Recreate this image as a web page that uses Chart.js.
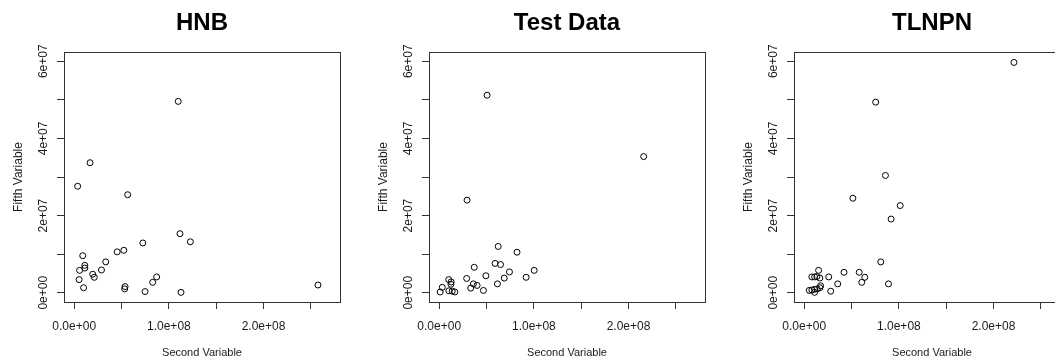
<!DOCTYPE html>
<html>
<head>
<meta charset="utf-8">
<script src="https://cdn.jsdelivr.net/npm/chart.js@4.4.1/dist/chart.umd.min.js"></script>
<style>
  html, body { margin: 0; padding: 0; background: #fff; }
  body { width: 1055px; height: 360px; overflow: hidden; }
  .row { display: flex; flex-wrap: nowrap; width: 1095px; }
  .panel { width: 365px; height: 360px; flex: none; }
</style>
</head>
<body>
<div class="row">
  <div class="panel"><canvas id="hnb" width="365" height="360"></canvas></div>
  <div class="panel"><canvas id="test" width="365" height="360"></canvas></div>
  <div class="panel"><canvas id="tlnpn" width="365" height="360"></canvas></div>
</div>
<script>
//data
const titles = ['HNB', 'Test Data', 'TLNPN'];

const hnbX = [1.099e8, 1.67e7, 3.6e6, 5.65e7, 1.117e8, 1.227e8, 7.25e7, 5.24e7, 4.54e7, 9.0e6, 3.33e7, 1.12e7, 1.12e7,
  5.7e6, 2.88e7, 1.95e7, 2.12e7, 5.2e6, 8.71e7, 8.29e7, 9.9e6, 5.37e7, 5.33e7, 7.48e7, 1.128e8, 2.575e8];
const hnbY = [4.96e7, 3.37e7, 2.76e7, 2.54e7, 1.53e7, 1.32e7, 1.29e7, 1.10e7, 1.06e7, 9.6e6, 8.0e6, 7.1e6, 6.4e6,
  5.8e6, 5.9e6, 4.8e6, 4.0e6, 3.4e6, 4.1e6, 2.7e6, 1.3e6, 1.6e6, 1.0e6, 3.0e5, 1.0e5, 2.0e6];

const testX = [5.06e7, 2.16e8, 2.94e7, 6.23e7, 8.22e7, 5.90e7, 6.48e7, 3.70e7, 1.003e8, 7.42e7, 4.93e7, 9.18e7, 6.87e7, 2.90e7,
  1.0e7, 1.26e7, 1.24e7, 3.61e7, 6.15e7, 4.0e7, 3.33e7, 3.2e6, 4.67e7, 1.02e7, 1.0e6, 1.37e7, 1.65e7];
const testY = [5.12e7, 3.53e7, 2.40e7, 1.20e7, 1.05e7, 7.6e6, 7.3e6, 6.6e6, 5.8e6, 5.4e6, 4.4e6, 4.0e6, 3.8e6, 3.7e6,
  3.4e6, 2.8e6, 2.2e6, 2.3e6, 2.3e6, 1.9e6, 1.2e6, 1.4e6, 6.0e5, 5.0e5, 2.0e5, 4.0e5, 2.0e5];

const tlnpnX = [2.216e8, 7.55e7, 8.58e7, 5.14e7, 1.014e8, 9.18e7, 8.09e7, 1.52e7, 4.20e7, 5.81e7, 8.1e6, 1.10e7, 1.34e7, 1.65e7,
  2.59e7, 6.40e7, 6.08e7, 3.54e7, 8.9e7, 1.73e7, 1.66e7, 1.38e7, 1.10e7, 8.1e6, 5.3e6, 1.10e7, 2.8e7];
const tlnpnY = [5.97e7, 4.94e7, 3.04e7, 2.45e7, 2.26e7, 1.91e7, 8.0e6, 5.8e6, 5.3e6, 5.3e6, 4.1e6, 4.1e6, 4.2e6, 3.8e6,
  4.1e6, 4.0e6, 2.7e6, 2.3e6, 2.3e6, 1.8e6, 1.3e6, 1.0e6, 9.0e5, 7.0e5, 6.0e5, 1.0e5, 4.0e5];

//axes
const xTickValues = [0, 5e7, 1e8, 1.5e8, 2e8, 2.5e8];
const xTickLabels = ['0.0e+00', '', '1.0e+08', '', '2.0e+08', ''];
const yTickValues = [0, 1e7, 2e7, 3e7, 4e7, 5e7, 6e7];
const yTickLabels = ['0e+00', '', '2e+07', '', '4e+07', '', '6e+07'];
const xRange = [-1.08e7, 2.808e8];
const yRange = [-2.4e6, 6.24e7];

const fontFamily = '"Liberation Sans", Arial, Helvetica, sans-serif';
const ink = '#1a1a1a';

// box around the plot region + title centred over it (R style)
const framePlugin = {
  id: 'frame',
  afterDraw(chart, args, opts) {
    const {ctx, chartArea: a} = chart;
    ctx.save();
    ctx.strokeStyle = '#333';
    ctx.lineWidth = 1;
    ctx.strokeRect(Math.round(a.left) + 0.5, Math.round(a.top) + 0.5,
      Math.round(a.right - a.left), Math.round(a.bottom - a.top));

    ctx.fillStyle = '#000';
    ctx.font = 'bold 24px ' + fontFamily;
    ctx.textAlign = 'center';
    ctx.textBaseline = 'middle';
    ctx.fillText(opts.text, (a.left + a.right) / 2, 23.5);
    ctx.restore();
  }
};

function makeChart(id, title, xs, ys) {
  const points = xs.map((x, i) => ({x: x, y: ys[i]}));
  return new Chart(document.getElementById(id), {
    type: 'scatter',
    data: {
      datasets: [{
        data: points,
        pointStyle: 'circle',
        pointRadius: 3,
        pointBorderWidth: 1,
        borderColor: '#000',
        backgroundColor: 'rgba(0,0,0,0)'
      }]
    },
    options: {
      responsive: false,
      animation: false,
      events: [],
      layout: { padding: { left: 0, right: 25, top: 52, bottom: 0 } },
      plugins: {
        legend: { display: false },
        tooltip: { enabled: false },
        title: { display: false },
        frame: { text: title }
      },
      scales: {
        x: {
          type: 'linear',
          min: xRange[0],
          max: xRange[1],
          afterBuildTicks: s => { s.ticks = xTickValues.map(v => ({value: v})); },
          afterFit: s => { s.height = 58; },
          grid: { drawOnChartArea: false, drawTicks: true, tickLength: 7, color: '#333', tickWidth: 1 },
          border: { display: false },
          ticks: {
            autoSkip: false,
            maxRotation: 0,
            padding: 10,
            color: ink,
            font: { family: fontFamily, size: 12 },
            callback: (v, i) => xTickLabels[i]
          },
          title: {
            display: true,
            text: 'Second Variable',
            color: ink,
            font: { family: fontFamily, size: 11 },
            padding: { top: 0, bottom: 0 }
          }
        },
        y: {
          type: 'linear',
          min: yRange[0],
          max: yRange[1],
          afterBuildTicks: s => { s.ticks = yTickValues.map(v => ({value: v})); },
          afterFit: s => { s.width = 64; },
          grid: { drawOnChartArea: false, drawTicks: true, tickLength: 7, color: '#333', tickWidth: 1 },
          border: { display: false },
          ticks: {
            autoSkip: false,
            minRotation: 90,
            maxRotation: 90,
            crossAlign: 'center',
            padding: -4,
            color: ink,
            font: { family: fontFamily, size: 12 },
            callback: (v, i) => yTickLabels[i]
          },
          title: {
            display: true,
            text: 'Fifth Variable',
            color: ink,
            font: { family: fontFamily, size: 12 },
            padding: { top: 11, bottom: 0 }
          }
        }
      }
    },
    plugins: [framePlugin]
  });
}

makeChart('hnb', titles[0], hnbX, hnbY);
makeChart('test', titles[1], testX, testY);
makeChart('tlnpn', titles[2], tlnpnX, tlnpnY);
</script>
</body>
</html>
